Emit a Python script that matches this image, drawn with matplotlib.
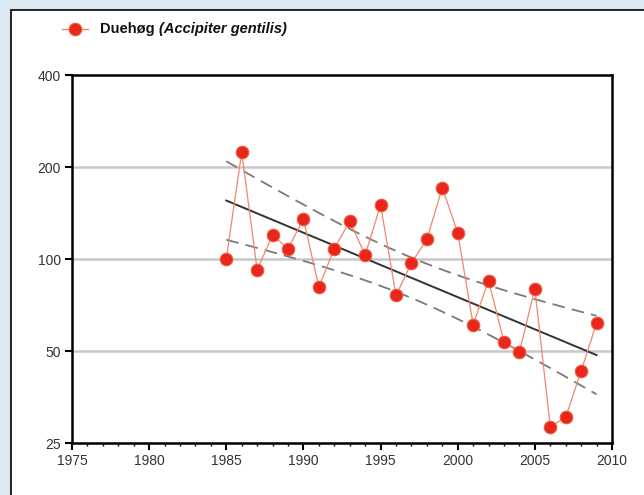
import numpy as np
import matplotlib
matplotlib.use("Agg")
import matplotlib.pyplot as plt
from matplotlib.ticker import FixedLocator, MultipleLocator, NullLocator
from matplotlib.patches import Rectangle
from matplotlib.lines import Line2D

plt.rcParams['font.family'] = ['Liberation Sans', 'DejaVu Sans']

# data
years = list(range(1985, 2010))
index = [100, 224, 92, 120, 108, 135, 81, 108, 133, 103, 150, 76, 97, 116,
         171, 122, 61, 85, 53.5, 49.6, 80, 28.2, 30.4, 43, 61.7]
y_ticks = [25, 50, 100, 200, 400]
x_ticks = [1975, 1980, 1985, 1990, 1995, 2000, 2005, 2010]
species = "Duehøg"
latin = "(Accipiter gentilis)"

fig = plt.figure(figsize=(6.44, 4.95), dpi=100)
fig.patch.set_facecolor('#dce8f1')
# white panel with black top/left border
fig.patches.append(Rectangle((11 / 644, -0.1), 1.0, 1 - 10 / 495 + 0.1,
                             transform=fig.transFigure, facecolor='white',
                             edgecolor='black', linewidth=1.2, zorder=-5))

ax = fig.add_axes([72 / 644, 1 - 443 / 495, 540 / 644, 368 / 495])
ax.set_yscale('log')
ax.set_xlim(1975, 2010)
ax.set_ylim(25, 400)

for v in y_ticks[1:-1]:
    ax.axhline(v, color='#c8c8c8', linewidth=1.8, zorder=1)

# log-linear trend with 95% band, fitted from the data
x = np.array(years, dtype=float)
ly = np.log10(index)
slope, icpt = np.polyfit(x, ly, 1)
resid = ly - (slope * x + icpt)
n = len(x)
s = np.sqrt(np.sum(resid ** 2) / (n - 2))
sxx = np.sum((x - x.mean()) ** 2)
xx = np.linspace(x[0], x[-1], 100)
fit = slope * xx + icpt
half = 2.069 * s * np.sqrt(1 / n + (xx - x.mean()) ** 2 / sxx)
ax.plot(xx, 10 ** fit, color='#333333', linewidth=1.4, zorder=2)
ax.plot(xx, 10 ** (fit + half), color='#7a7a7a', linewidth=1.3,
        dashes=(7, 4), zorder=2)
ax.plot(xx, 10 ** (fit - half), color='#7a7a7a', linewidth=1.3,
        dashes=(7, 4), zorder=2)

ax.plot(years, index, color='#f2866a', linewidth=0.9, marker='o',
        markersize=9, markerfacecolor='#e8261c', markeredgecolor='#f05a3c',
        markeredgewidth=0.8, zorder=3)

ax.yaxis.set_major_locator(FixedLocator(y_ticks))
ax.yaxis.set_minor_locator(NullLocator())
ax.set_yticklabels([str(v) for v in y_ticks])
ax.xaxis.set_major_locator(FixedLocator(x_ticks))
ax.xaxis.set_minor_locator(MultipleLocator(1))
ax.tick_params(axis='both', which='major', direction='out', length=5,
               width=1.5, labelsize=10, labelcolor='#333333', pad=3)
ax.tick_params(axis='x', which='minor', direction='out', length=2.5,
               width=1.0)
for sp in ax.spines.values():
    sp.set_linewidth(1.8)

# legend drawn by hand
fig.add_artist(Line2D([62 / 644, 88 / 644], [1 - 29 / 495] * 2,
                      transform=fig.transFigure, color='#f2866a',
                      linewidth=1.0))
fig.add_artist(Line2D([75 / 644], [1 - 29 / 495], transform=fig.transFigure,
                      marker='o', markersize=9, markerfacecolor='#e8261c',
                      markeredgecolor='#f05a3c', markeredgewidth=0.8))
t1 = fig.text(100 / 644, 1 - 29 / 495, species + " ", fontsize=10.5,
              fontweight='bold', va='center', ha='left', color='#111111')
lat = plt.Annotation(latin, xy=(1, 0), xycoords=t1, xytext=(0, 0),
                     textcoords='offset points', fontsize=10.5,
                     fontweight='bold', fontstyle='italic', va='bottom',
                     ha='left', color='#111111', annotation_clip=False)
fig.add_artist(lat)

fig.savefig('out.png', dpi=100, facecolor=fig.get_facecolor())
